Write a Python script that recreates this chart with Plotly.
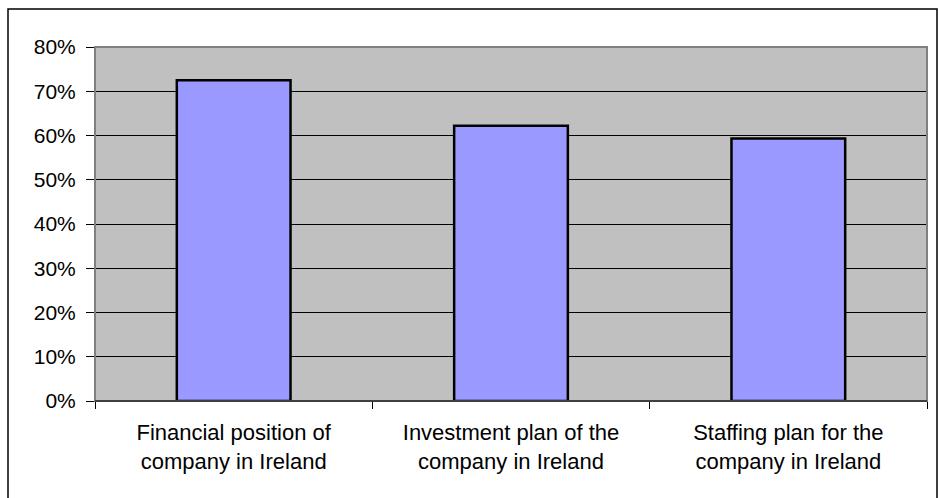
import plotly.graph_objects as go

# Share of respondents by factor
categories = [
    "Financial position of<br>company in Ireland",
    "Investment plan of the<br>company in Ireland",
    "Staffing plan for the<br>company in Ireland",
]
shares = [0.725, 0.622, 0.593]
y_tick_values = [0, 0.1, 0.2, 0.3, 0.4, 0.5, 0.6, 0.7, 0.8]
y_tick_labels = ["0%", "10%", "20%", "30%", "40%", "50%", "60%", "70%", "80%"]

W, H = 938, 498
L, R, T, B = 95, 11, 47, 97
pw, ph = W - L - R, H - T - B

fig = go.Figure(
    go.Bar(
        x=categories,
        y=shares,
        width=0.41,
        marker=dict(color="#9999FF", line=dict(color="#000000", width=2.5)),
        hoverinfo="x+y",
    )
)

family = "Liberation Sans, Arial, sans-serif"
font = dict(family=family, size=21, color="#000000")

fig.update_layout(
    width=W,
    height=H,
    margin=dict(l=L, r=R, t=T, b=B, pad=0),
    paper_bgcolor="#FFFFFF",
    plot_bgcolor="#C0C0C0",
    font=font,
    showlegend=False,
    xaxis=dict(
        type="category",
        showgrid=False,
        zeroline=False,
        showline=False,
        ticks="outside",
        tickson="boundaries",
        ticklen=7,
        tickwidth=1,
        tickcolor="#000000",
        tickfont=dict(family=family, size=22, color="#000000"),
        ticklabelstandoff=16,
    ),
    yaxis=dict(
        range=[0, 0.8],
        tickvals=y_tick_values,
        ticktext=y_tick_labels,
        showgrid=True,
        gridcolor="#000000",
        gridwidth=1,
        zeroline=False,
        showline=False,
        ticks="outside",
        ticklen=8,
        tickwidth=1,
        tickcolor="#000000",
        tickfont=font,
        ticklabelstandoff=6,
    ),
    shapes=[
        # plot area frame
        dict(type="rect", xref="paper", yref="paper", x0=0, x1=1, y0=0, y1=1,
             line=dict(color="#808080", width=2), layer="above"),
        # baseline
        dict(type="line", xref="paper", yref="paper", x0=0, x1=1, y0=0, y1=0,
             line=dict(color="#000000", width=1), layer="above"),
        # chart border
        dict(type="rect", xref="paper", yref="paper",
             x0=(8 - L) / pw, x1=(937 - L) / pw,
             y0=-(H + 20 - (T + ph)) / ph, y1=(T + ph - 9) / ph,
             line=dict(color="#000000", width=1.5), layer="above"),
    ],
)

fig.write_html("out.html")
